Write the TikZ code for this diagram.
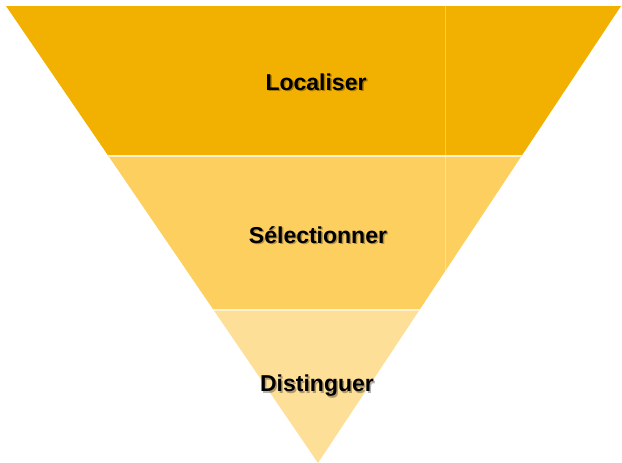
\documentclass[tikz,border=0pt]{standalone}
\usepackage{fontspec}
\setmainfont{Liberation Sans}
\usepackage{tikz}

\definecolor{bandtop}{HTML}{F2B000}
\definecolor{bandmid}{HTML}{FDCF5E}
\definecolor{bandlow}{HTML}{FEDF98}

\tikzset{
  bandlabel/.style={font=\bfseries\fontsize{23}{27}\selectfont, text=black},
  bandshadow/.style={font=\bfseries\fontsize{23}{27}\selectfont, text=black, opacity=0.3},
  bandsep/.style={white!70!bandmid, line width=1.2pt}
}

\begin{document}
\begin{tikzpicture}[x=1pt,y=-1pt]
\useasboundingbox (0,0) rectangle (622,463);
% Funnel corners
\coordinate (tl) at (6,6);
\coordinate (tr) at (621,6);
\coordinate (apex) at (318,463);
% Bands
\begin{scope}
\clip (tl) -- (tr) -- (apex) -- cycle;
\fill[bandtop] (0,6) rectangle (622,156);
\fill[bandmid] (0,156) rectangle (622,310);
\fill[bandlow] (0,310) rectangle (622,463);
\draw[bandsep] (0,156) -- (622,156);
\draw[bandsep] (0,310) -- (622,310);
\draw[white, opacity=0.35, line width=0.8pt] (445,6) -- (445,310);
\end{scope}
% Labels
\node[bandshadow] at (317.5,83.5) {Localiser};
\node[bandlabel] (loc) at (316,82) {Localiser};
\node[bandshadow] at (319.5,236.5) {Sélectionner};
\node[bandlabel] (sel) at (318,235) {Sélectionner};
\node[bandshadow] at (318.5,387.5) {Distinguer};
\node[bandlabel] (dis) at (317,386) {Distinguer};
\end{tikzpicture}
\end{document}
